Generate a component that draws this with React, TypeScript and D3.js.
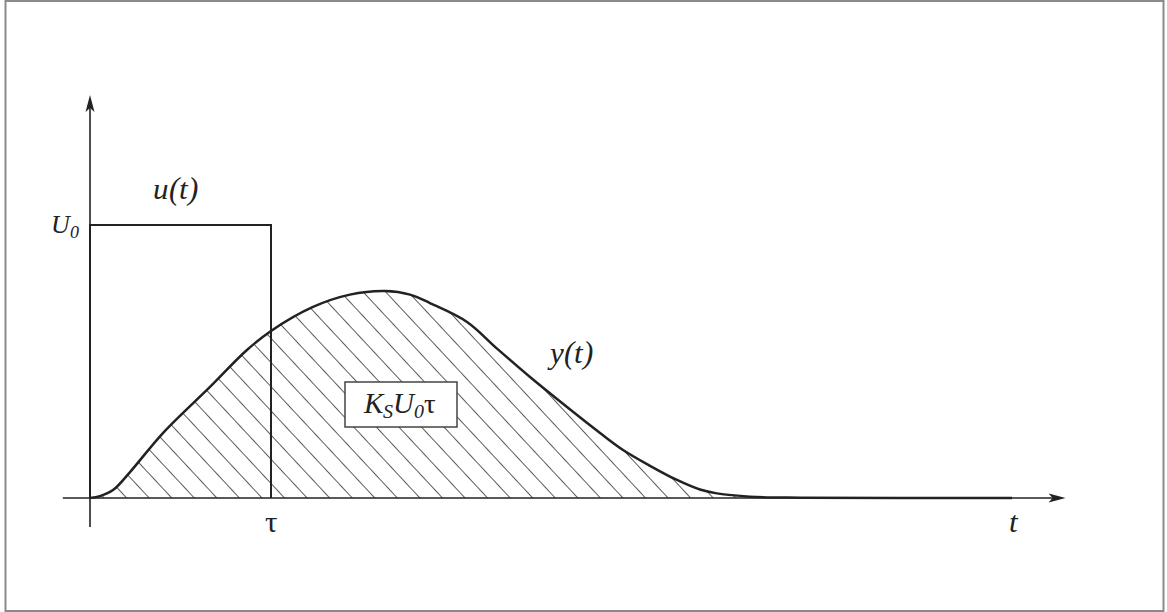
import React from "react";
import * as d3 from "d3";

// Rectangular input pulse u(t): height U0 (=1) lasting τ (=1)
const PULSE_T = [0, 0, 1, 1];
const PULSE_U = [0, 1, 1, 0];

// Response y(t) of the system to the pulse
const RESP_T = [0, 0.055, 0.127, 0.221, 0.403, 0.663, 0.867, 1.0, 1.232, 1.436, 1.63, 1.768, 1.878, 2.083, 2.249, 2.431, 2.613, 2.818, 2.945, 3.094, 3.243, 3.37, 3.464, 3.646, 3.923, 5.094];
const RESP_Y = [0, 0.007, 0.029, 0.095, 0.238, 0.407, 0.542, 0.612, 0.7, 0.745, 0.758, 0.745, 0.714, 0.645, 0.547, 0.443, 0.345, 0.238, 0.176, 0.118, 0.066, 0.031, 0.017, 0.005, 0.001, 0];

// Axis extents (data units)
const T_AXIS = [-0.15, 5.39];
const Y_AXIS = [-0.106, 1.476];

const W = 1167;
const H = 612;

const FONT_CSS = `
@font-face { font-family: "ChartSerif"; font-style: normal; src: local("Liberation Serif"), local("LiberationSerif"), local("Times New Roman"); }
@font-face { font-family: "ChartSerif"; font-style: italic; src: local("Liberation Serif Italic"), local("LiberationSerif-Italic"), local("Times New Roman Italic"); }
text, tspan { font-family: "ChartSerif", "Liberation Serif", "Times New Roman", serif; fill: #222; }
`;

export default function App() {
  const x = d3.scaleLinear().domain([0, 1]).range([90, 271]);
  const y = d3.scaleLinear().domain([0, 1]).range([498, 225]);

  const resp = RESP_T.map((t, i) => [t, RESP_Y[i]] as [number, number]);
  const pulse = PULSE_T.map((t, i) => [t, PULSE_U[i]] as [number, number]);

  const curve = d3.curveCatmullRom.alpha(0.5);
  const line = d3
    .line<[number, number]>()
    .x((d) => x(d[0]))
    .y((d) => y(d[1]))
    .curve(curve);
  const area = d3
    .area<[number, number]>()
    .x((d) => x(d[0]))
    .y0(y(0))
    .y1((d) => y(d[1]))
    .curve(curve);
  const pulseLine = d3
    .line<[number, number]>()
    .x((d) => x(d[0]))
    .y((d) => y(d[1]));

  const x0 = x(0);
  const yz = y(0);
  const xEnd = x(T_AXIS[1]);
  const yTop = y(Y_AXIS[1]);

  return (
    <svg width={W} height={H} style={{ position: "absolute", left: 0, top: 0 }}>
      <style>{FONT_CSS}</style>
      <defs>
        <pattern
          id="hatch"
          patternUnits="userSpaceOnUse"
          width={16.5}
          height={40}
          patternTransform="rotate(-43)"
        >
          <line x1={0.5} y1={0} x2={0.5} y2={40} stroke="#333" strokeWidth={0.8} />
        </pattern>
      </defs>

      {/* frame */}
      <rect x={5.5} y={1} width={1158} height={610} fill="none" stroke="#8a8a8a" strokeWidth={2} />

      {/* hatched area under y(t) */}
      <path d={area(resp) || ""} fill="url(#hatch)" stroke="none" />

      {/* axes */}
      <line x1={x(T_AXIS[0])} y1={yz} x2={xEnd - 12} y2={yz} stroke="#222" strokeWidth={1.6} />
      <polygon points={`${xEnd},${yz} ${xEnd - 17},${yz - 4.5} ${xEnd - 13},${yz} ${xEnd - 17},${yz + 4.5}`} fill="#222" />
      <line x1={x0} y1={y(Y_AXIS[0])} x2={x0} y2={yTop + 12} stroke="#222" strokeWidth={1.6} />
      <polygon points={`${x0},${yTop} ${x0 - 4.5},${yTop + 17} ${x0},${yTop + 13} ${x0 + 4.5},${yTop + 17}`} fill="#222" />

      {/* input pulse */}
      <path d={pulseLine(pulse) || ""} fill="none" stroke="#222" strokeWidth={2} />

      {/* response */}
      <path d={line(resp) || ""} fill="none" stroke="#222" strokeWidth={2.5} />

      {/* area label */}
      <rect x={345} y={382} width={112} height={45} fill="#fff" stroke="#444" strokeWidth={1.5} />
      <text x={364} y={413} fontSize={29}>
        <tspan fontStyle="italic">K</tspan>
        <tspan fontStyle="italic" fontSize={20} dy={5}>S</tspan>
        <tspan fontStyle="italic" dy={-5}>U</tspan>
        <tspan fontStyle="italic" fontSize={20} dy={5}>0</tspan>
        <tspan dy={-5}>τ</tspan>
      </text>

      {/* labels */}
      <text x={153} y={199} fontSize={31} fontStyle="italic">u(t)</text>
      <text x={51} y={233} fontSize={26}>
        <tspan fontStyle="italic">U</tspan>
        <tspan fontStyle="italic" fontSize={18} dy={5}>0</tspan>
      </text>
      <text x={550} y={363} fontSize={31} fontStyle="italic">y(t)</text>
      <text x={x(1)} y={532} fontSize={31} textAnchor="middle">τ</text>
      <text x={1013} y={532} fontSize={31} textAnchor="middle" fontStyle="italic">t</text>
    </svg>
  );
}
